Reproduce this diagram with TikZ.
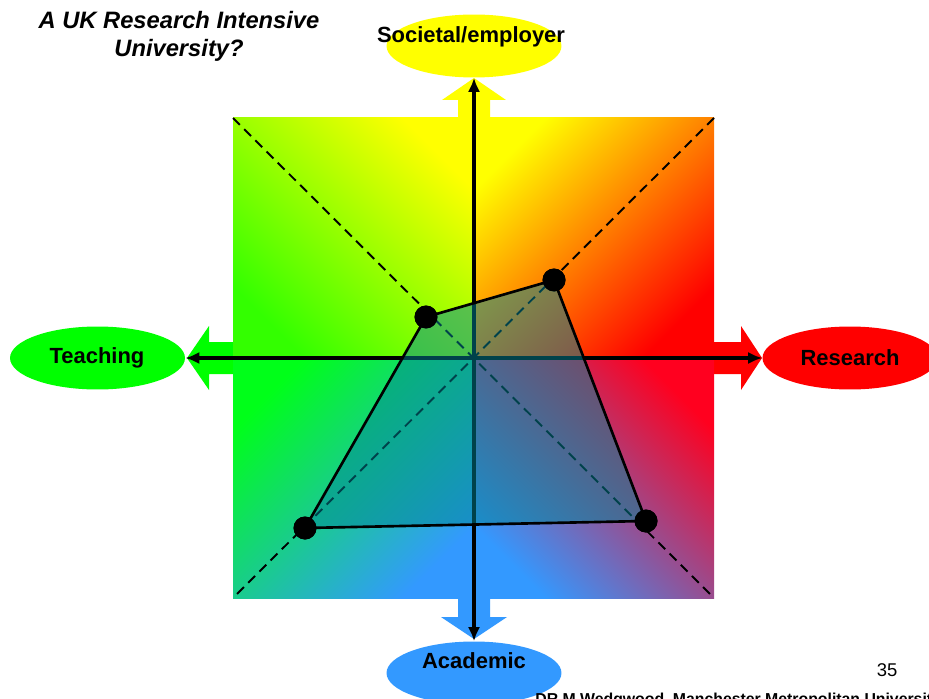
\documentclass[tikz,border=0pt]{standalone}
\usepackage{fontspec}
\setmainfont{Liberation Sans}
\usetikzlibrary{arrows.meta, shapes.geometric}

\definecolor{socyellow}{HTML}{FFFF00}
\definecolor{teachgreen}{HTML}{00FF00}
\definecolor{resred}{HTML}{FF0000}
\definecolor{acadblue}{HTML}{3399FF}
\definecolor{polyteal}{RGB}{0,132,150}

\begin{document}
\begin{tikzpicture}[x=0.02cm, y=-0.02cm, >={Latex[length=8pt,width=7pt]},
    every node/.style={font=\bfseries\fontsize{12.5}{15}\selectfont},
    pole/.style={ellipse, minimum width=3.5cm, minimum height=1.26cm, inner sep=0pt},
    dot/.style={circle, fill=black, minimum size=0.46cm, inner sep=0pt},
    diag/.style={dash pattern=on 5.5pt off 3.5pt, line width=1.1pt},
    axisline/.style={<->, line width=2.1pt},
    poly/.style={draw=black, line width=1.5pt, fill=polyteal, fill opacity=0.5}]
    \useasboundingbox (0,0) rectangle (929,699);

    % Define corners of the square
    \coordinate (nw) at (233,118);
    \coordinate (ne) at (714,118);
    \coordinate (sw) at (233,598);
    \coordinate (se) at (714,598);
    \coordinate (mid) at (474,358);

    % Block arrows, partly hidden by the square
    \fill[socyellow] (458,140) -- (458,100) -- (442,100) -- (474,78) -- (506,100) -- (490,100) -- (490,140) -- cycle;
    \fill[acadblue] (458,570) -- (458,617) -- (441,617) -- (474,639) -- (507,617) -- (490,617) -- (490,570) -- cycle;
    \fill[teachgreen] (260,342) -- (209,342) -- (209,326) -- (187,358) -- (209,390) -- (209,374) -- (260,374) -- cycle;
    \fill[resred] (690,342) -- (741,342) -- (741,326) -- (762,358) -- (741,390) -- (741,374) -- (690,374) -- cycle;

    % Shade the four quadrants
    \shade[top color=socyellow, bottom color=green!80!yellow, shading angle=-45] (nw) rectangle (mid);
    \shade[top color=socyellow, bottom color=resred, shading angle=45] (474,118) rectangle (714,358);
    \shade[top color=resred!88!magenta, bottom color=acadblue, shading angle=-45] (mid) rectangle (se);
    \shade[top color=teachgreen!90!cyan, bottom color=acadblue, shading angle=45] (233,358) rectangle (474,598);

    % Define the four poles
    \node[pole, fill=socyellow] (soc) at (474,46) {};
    \node[pole, fill=teachgreen] (teach) at (97.5,358) {};
    \node[pole, fill=resred] (res) at (850,358) {};
    \node[pole, fill=acadblue] (acad) at (474,673) {};
    \node (soc-t) at (471,37) {Societal/employer};
    \node (teach-t) at (97,358) {Teaching};
    \node (res-t) at (850,358) {Research};
    \node (acad-t) at (474,661) {Academic};

    % Draw axes and diagonals
    \draw[axisline] (teach) -- (res);
    \draw[axisline] (soc) -- (acad);
    \draw[diag] (nw) -- (se);
    \draw[diag] (ne) -- (sw);

    % Profile of the university
    \node[dot] (p1) at (426,317) {};
    \node[dot] (p2) at (554,280) {};
    \node[dot] (p3) at (646,521) {};
    \node[dot] (p4) at (305,528) {};
    \draw[poly] (p1.center) -- (p2.center) -- (p3.center) -- (p4.center) -- cycle;
    \foreach \p in {p1,p2,p3,p4}
        \fill (\p) circle (11.5);

    % Title and footer
    \node[align=center, font=\bfseries\itshape\fontsize{13.5}{16}\selectfont] (title) at (179,36) {A UK Research Intensive\\University?};
    \node[font=\fontsize{10.5}{12}\selectfont] (page) at (887,670) {35};
    \node[anchor=base west, inner sep=0pt, font=\bfseries\fontsize{9}{10}\selectfont] (credit) at (535,704) {DR M Wedgwood, Manchester Metropolitan University};
\end{tikzpicture}
\end{document}
